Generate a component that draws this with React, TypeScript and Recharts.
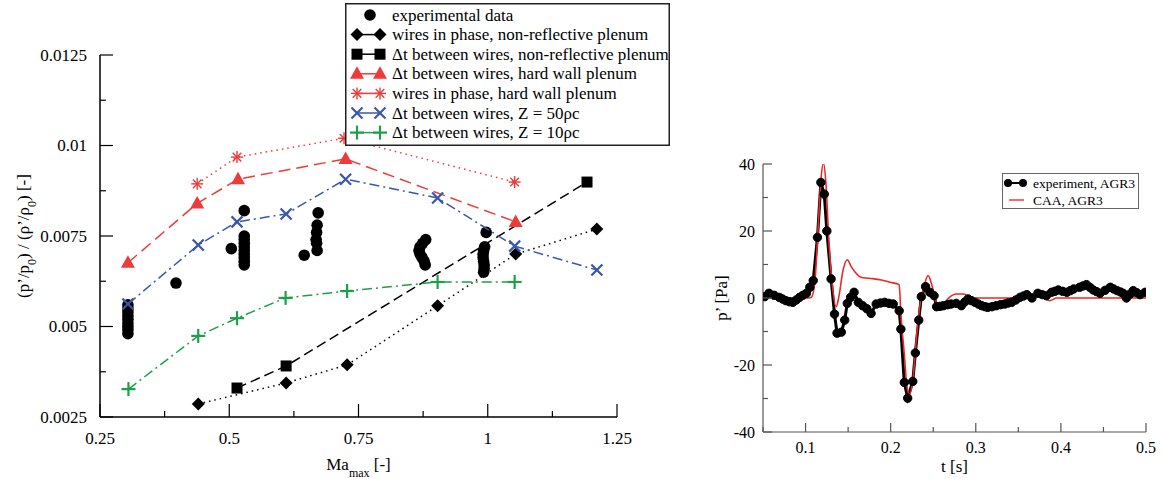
import React from 'react';
import { ScatterChart, ComposedChart, Scatter, Line, XAxis, YAxis, Legend } from 'recharts';

// ---------- left panel: (p'/p0)/(rho'/rho0) vs Ma_max ----------
const expData: [number, number][] = [
  [0.304, 0.0056], [0.304, 0.0055], [0.304, 0.0054], [0.304, 0.0053], [0.304, 0.0052], [0.304, 0.0051],
  [0.304, 0.005], [0.304, 0.0049], [0.304, 0.0048],
  [0.397, 0.0062],
  [0.504, 0.00715],
  [0.529, 0.0082], [0.529, 0.0075], [0.529, 0.0074], [0.529, 0.0073], [0.529, 0.0072], [0.529, 0.0071],
  [0.529, 0.007], [0.529, 0.0069], [0.529, 0.0068], [0.529, 0.0067],
  [0.645, 0.00697],
  [0.672, 0.00814], [0.67, 0.0078], [0.669, 0.0076], [0.668, 0.0074], [0.669, 0.0073], [0.67, 0.0071],
  [0.88, 0.0074], [0.874, 0.0073], [0.869, 0.0072], [0.867, 0.0071], [0.869, 0.007], [0.873, 0.0069],
  [0.877, 0.0068], [0.879, 0.0067],
  [0.997, 0.0076], [0.994, 0.0072], [0.992, 0.0071], [0.991, 0.007], [0.991, 0.0069], [0.992, 0.0068],
  [0.993, 0.0067], [0.993, 0.0066], [0.992, 0.0065],
];
const inPhaseNonRefl: [number, number][] = [
  [0.44, 0.00286], [0.61, 0.00344], [0.728, 0.00394], [0.903, 0.00557], [1.054, 0.007], [1.211, 0.00769],
];
const dtNonRefl: [number, number][] = [[0.515, 0.0033], [0.61, 0.00391], [1.192, 0.00899]];
const dtHardWall: [number, number][] = [
  [0.304, 0.00676], [0.438, 0.0084], [0.517, 0.00907], [0.725, 0.00963], [1.054, 0.00789],
];
const inPhaseHardWall: [number, number][] = [[0.438, 0.00894], [0.515, 0.00968], [0.722, 0.0102], [1.052, 0.00899]];
const dtZ50: [number, number][] = [
  [0.304, 0.00562], [0.44, 0.00725], [0.515, 0.00789], [0.61, 0.00811], [0.725, 0.00907],
  [0.903, 0.00855], [1.052, 0.00722], [1.211, 0.00656],
];
const dtZ10: [number, number][] = [
  [0.305, 0.00327], [0.44, 0.00474], [0.515, 0.00523], [0.609, 0.00579], [0.728, 0.00598],
  [0.903, 0.00623], [1.052, 0.00623],
];

const leftLabels = [
  'experimental data',
  'wires in phase, non-reflective plenum',
  '\u0394t between wires, non-reflective plenum',
  '\u0394t between wires, hard wall plenum',
  'wires in phase, hard wall plenum',
  '\u0394t between wires, Z = 50\u03c1c',
  '\u0394t between wires, Z = 10\u03c1c',
];
const maTicks = [0.25, 0.375, 0.5, 0.625, 0.75, 0.875, 1, 1.125, 1.25];
const maMajor = [0.25, 0.5, 0.75, 1, 1.25];
const ratioTicks = [0.0025, 0.00375, 0.005, 0.00625, 0.0075, 0.00875, 0.01, 0.01125, 0.0125];
const ratioMajor = [0.0025, 0.005, 0.0075, 0.01, 0.0125];

// ---------- right panel: p' vs t ----------
const experiment: [number, number][] = [
  [0.052, 0.4], [0.057, 1.4], [0.063, 0.8], [0.069, 0.2], [0.073, -0.3], [0.077, -0.8], [0.081, -1.1],
  [0.085, -1.3], [0.089, -0.6], [0.093, 0.2], [0.097, 0.8], [0.101, 1.4], [0.105, 3.2], [0.109, 5.2],
  [0.114, 18.1], [0.118, 34.5], [0.122, 31], [0.125, 20], [0.13, 5.7], [0.134, -4.8], [0.137, -10.5],
  [0.142, -10.2], [0.146, -6.6], [0.149, -1.6], [0.153, 0.2], [0.157, 1.7], [0.162, -1.3], [0.167, -2.3],
  [0.172, -3.2], [0.177, -4.6], [0.183, -1.8], [0.188, -1.5], [0.193, -1.3], [0.198, -1.6], [0.203, -1.8],
  [0.21, -3.8], [0.212, -9.3], [0.216, -25.2], [0.22, -29.9], [0.226, -24.9], [0.229, -16.4], [0.233, -6.6],
  [0.236, 0.4], [0.241, 3.4], [0.246, 1.7], [0.251, 0.7], [0.254, -2.6], [0.258, -2.5], [0.262, -2.3],
  [0.267, -2], [0.271, -1.8], [0.277, -1.6], [0.283, -2.3], [0.287, -1.2], [0.291, -0.3], [0.295, -0.8],
  [0.299, -1.3], [0.303, -1.8], [0.307, -2.3], [0.311, -2.6], [0.314, -2.8], [0.319, -2.6], [0.324, -2.3],
  [0.329, -2], [0.334, -1.8], [0.338, -1.5], [0.342, -1.3], [0.347, -0.6], [0.352, 0.2], [0.356, 0.6],
  [0.36, 1], [0.366, 0], [0.373, 1.4], [0.378, 1], [0.383, 0.7], [0.389, 1.7], [0.393, 2], [0.397, 2.4],
  [0.402, 2], [0.407, 1.7], [0.411, 2.2], [0.415, 2.7], [0.422, 3.2], [0.426, 3.6], [0.43, 4], [0.434, 3.2],
  [0.438, 2.4], [0.442, 1.9], [0.446, 1.4], [0.452, 2.3], [0.458, 3.2], [0.462, 2.7], [0.466, 2.2],
  [0.47, 1.8], [0.473, 1.4], [0.477, 0], [0.481, 1.1], [0.485, 2.2], [0.489, 1.6], [0.493, 1], [0.499, 1.7],
];
const caa: [number, number][] = [
  [0.05, 0], [0.104, 0], [0.107, 0.2], [0.111, 5], [0.115, 22], [0.118, 35], [0.121, 40.3], [0.124, 34],
  [0.127, 19], [0.131, 5], [0.136, -2.6], [0.139, 0.2], [0.144, 8.2], [0.149, 11.4], [0.154, 9.2],
  [0.16, 7.2], [0.165, 6.2], [0.175, 5.9], [0.189, 5.4], [0.199, 4.7], [0.21, 4], [0.212, -4.8],
  [0.216, -16.7], [0.219, -26.2], [0.222, -28.7], [0.226, -24.7], [0.23, -12.7], [0.234, -2.8],
  [0.239, 3.2], [0.244, 6.7], [0.248, 4.2], [0.252, 0.2], [0.256, -2.8], [0.262, -1.8], [0.269, 0.2],
  [0.277, 1.2], [0.285, 1.2], [0.297, 0], [0.34, 0], [0.352, 0.7], [0.364, 1.2], [0.375, 0.7],
  [0.387, -0.8], [0.395, 0], [0.5, 0],
];
const rightLabels = ['experiment, AGR3', 'CAA, AGR3'];
const tTicks = [0.05, 0.1, 0.15, 0.2, 0.25, 0.3, 0.35, 0.4, 0.45, 0.5];
const tMajor = [0.1, 0.2, 0.3, 0.4, 0.5];
const pTicks = [-40, -30, -20, -10, 0, 10, 20, 30, 40];
const pMajor = [-40, -20, 0, 20, 40];

const SERIF = 'Liberation Serif, Times New Roman, DejaVu Serif, serif';
const RED = '#ec3b3b';
const BLUE = '#3b57a8';
const GREEN = '#1f9e4c';

const pts = (arr: [number, number][]) => arr.map(([x, y]) => ({ x, y }));
const tp = (arr: [number, number][]) => arr.map(([t, p]) => ({ t, p }));

function drawMarker(kind: string, cx: number, cy: number, color: string) {
  switch (kind) {
    case 'circle':
      return <circle cx={cx} cy={cy} r={5.8} fill={color} />;
    case 'diamond':
      return <polygon points={`${cx},${cy - 6.5} ${cx + 6.5},${cy} ${cx},${cy + 6.5} ${cx - 6.5},${cy}`} fill={color} />;
    case 'square':
      return <rect x={cx - 5.5} y={cy - 5.5} width={11} height={11} fill={color} />;
    case 'triangle':
      return <polygon points={`${cx},${cy - 7.5} ${cx + 7},${cy + 5} ${cx - 7},${cy + 5}`} fill={color} />;
    case 'star':
      return (
        <g stroke={color} strokeWidth={1.4}>
          <line x1={cx} y1={cy - 6} x2={cx} y2={cy + 6} />
          <line x1={cx - 6} y1={cy} x2={cx + 6} y2={cy} />
          <line x1={cx - 4.3} y1={cy - 4.3} x2={cx + 4.3} y2={cy + 4.3} />
          <line x1={cx - 4.3} y1={cy + 4.3} x2={cx + 4.3} y2={cy - 4.3} />
        </g>
      );
    case 'cross':
      return (
        <g stroke={color} strokeWidth={2.2}>
          <line x1={cx - 5.5} y1={cy - 5.5} x2={cx + 5.5} y2={cy + 5.5} />
          <line x1={cx - 5.5} y1={cy + 5.5} x2={cx + 5.5} y2={cy - 5.5} />
        </g>
      );
    default:
      return (
        <g stroke={color} strokeWidth={2.2}>
          <line x1={cx - 7} y1={cy} x2={cx + 7} y2={cy} />
          <line x1={cx} y1={cy - 7} x2={cx} y2={cy + 7} />
        </g>
      );
  }
}

const leftSeries = [
  { data: expData, kind: 'circle', color: '#000', dash: '' },
  { data: inPhaseNonRefl, kind: 'diamond', color: '#000', dash: '1.5 4' },
  { data: dtNonRefl, kind: 'square', color: '#000', dash: '10 5' },
  { data: dtHardWall, kind: 'triangle', color: RED, dash: '12 6' },
  { data: inPhaseHardWall, kind: 'star', color: RED, dash: '1.5 4' },
  { data: dtZ50, kind: 'cross', color: BLUE, dash: '10 4 2 4' },
  { data: dtZ10, kind: 'plus', color: GREEN, dash: '10 4 2 4' },
];

const LeftLegend = () => (
  <svg width={325} height={143} style={{ display: 'block', fontFamily: SERIF }}>
    <rect x={0.75} y={0.75} width={323.5} height={141.5} fill="#fff" stroke="#222" strokeWidth={1.5} />
    {leftLabels.map((label, i) => {
      const s = leftSeries[i];
      const cy = 12 + i * 19.6;
      return (
        <g key={label}>
          {s.kind === 'circle' ? (
            drawMarker('circle', 25, cy, s.color)
          ) : (
            <>
              <line x1={12} x2={35} y1={cy} y2={cy} stroke={s.color} strokeWidth={1.5} />
              {drawMarker(s.kind, 12, cy, s.color)}
              {drawMarker(s.kind, 35, cy, s.color)}
            </>
          )}
          <text x={47} y={cy + 5.5} fontSize={17} style={{ fontFamily: SERIF }} fill="#000">{label}</text>
        </g>
      );
    })}
  </svg>
);

const RightLegend = () => (
  <svg width={137} height={36} style={{ display: 'block', fontFamily: SERIF }}>
    <rect x={0.5} y={0.5} width={136} height={35} fill="#fff" stroke="#666" strokeWidth={1} />
    <line x1={6} x2={21} y1={10} y2={10} stroke="#000" strokeWidth={2} />
    <circle cx={6} cy={10} r={4} fill="#000" />
    <circle cx={21} cy={10} r={4} fill="#000" />
    <text x={31} y={15} fontSize={13.5} style={{ fontFamily: SERIF }}>{rightLabels[0]}</text>
    <line x1={7} x2={22} y1={27} y2={27} stroke={RED} strokeWidth={1.5} />
    <text x={31} y={32} fontSize={13.5} style={{ fontFamily: SERIF }}>{rightLabels[1]}</text>
  </svg>
);

// tick renderers (tickSize 0 so x/y sit on the axis line)
const makeTick = (side: string, major: number[], len: [number, number], color: string, fs: number, gap: number, labels: boolean) =>
  (props: any) => {
    const { x, y, payload } = props;
    const isMajor = major.some((m) => Math.abs(m - payload.value) < 1e-9);
    const l = isMajor ? len[0] : len[1];
    let line;
    let text = null;
    if (side === 'bottom') {
      line = <line x1={x} x2={x} y1={y} y2={y - l} />;
      if (labels && isMajor) text = <text x={x} y={y + gap} textAnchor="middle">{String(payload.value)}</text>;
    } else if (side === 'top') {
      line = <line x1={x} x2={x} y1={y} y2={y + l} />;
    } else if (side === 'left') {
      line = <line x1={x} x2={x + l} y1={y} y2={y} />;
      if (labels && isMajor) text = <text x={x - gap} y={y} dy="0.35em" textAnchor="end">{String(payload.value)}</text>;
    } else {
      line = <line x1={x} x2={x - l} y1={y} y2={y} />;
    }
    return (
      <g stroke={color} strokeWidth={1.2}>
        {line}
        {text && <g stroke="none" fill="#000" fontSize={fs} style={{ fontFamily: SERIF }}>{text}</g>}
      </g>
    );
  };

const LeftYTitle = (props: any) => {
  const { viewBox } = props;
  const cy = viewBox.y + viewBox.height / 2;
  return (
    <text x={29} y={cy} transform={`rotate(-90 29 ${cy})`} textAnchor="middle" fontSize={17} style={{ fontFamily: SERIF }}>
      (p’/p<tspan baseline-shift="sub" fontSize={12}>0</tspan>) / (ρ’/ρ<tspan baseline-shift="sub" fontSize={12}>0</tspan>) [-]
    </text>
  );
};

const LeftXTitle = (props: any) => {
  const { viewBox } = props;
  const cx = viewBox.x + viewBox.width / 2;
  return (
    <text x={cx} y={viewBox.y + 53} textAnchor="middle" fontSize={17} style={{ fontFamily: SERIF }}>
      Ma<tspan baseline-shift="sub" fontSize={12}>max</tspan> [-]
    </text>
  );
};

const RightYTitle = (props: any) => {
  const { viewBox } = props;
  const cy = viewBox.y + viewBox.height / 2;
  return (
    <text x={37} y={cy} transform={`rotate(-90 37 ${cy})`} textAnchor="middle" fontSize={17} style={{ fontFamily: SERIF }}>
      p’ [Pa]
    </text>
  );
};

const RightXTitle = (props: any) => {
  const { viewBox } = props;
  const cx = viewBox.x + viewBox.width / 2;
  return (
    <text x={cx} y={viewBox.y + 40} textAnchor="middle" fontSize={17} style={{ fontFamily: SERIF }}>
      t [s]
    </text>
  );
};

export default function App() {
  return (
    <div style={{ position: 'absolute', left: 0, top: 0, width: 1164, height: 479, background: '#fff', fontFamily: SERIF }}>
      <div style={{ position: 'absolute', left: 0, top: 0 }}>
        <ScatterChart width={680} height={479} margin={{ top: 55, right: 63, bottom: 0, left: 0 }} style={{ fontFamily: SERIF }}>
          <XAxis
            xAxisId="b" dataKey="x" type="number" domain={[0.25, 1.25]} ticks={maTicks} interval={0}
            height={62} tickSize={0} tickMargin={0} tickLine={false} allowDataOverflow
            axisLine={{ stroke: '#000', strokeWidth: 1.5 }}
            tick={makeTick('bottom', maMajor, [13, 6], '#000', 17, 27, true)}
            label={LeftXTitle}
          />
          <XAxis
            xAxisId="t" orientation="top" type="number" domain={[0.25, 1.25]} ticks={maTicks} interval={0}
            height={0} tickSize={0} tickMargin={0} tickLine={false} allowDataOverflow
            axisLine={{ stroke: '#000', strokeWidth: 1.5 }}
            tick={makeTick('top', maMajor, [13, 6], '#000', 17, 0, false)}
          />
          <YAxis
            yAxisId="l" dataKey="y" type="number" domain={[0.0025, 0.0125]} ticks={ratioTicks} interval={0}
            width={100} tickSize={0} tickMargin={0} tickLine={false} allowDataOverflow
            axisLine={{ stroke: '#000', strokeWidth: 1.5 }}
            tick={makeTick('left', ratioMajor, [13, 6], '#000', 17, 13, true)}
            label={LeftYTitle}
          />
          <YAxis
            yAxisId="r" orientation="right" type="number" domain={[0.0025, 0.0125]} ticks={ratioTicks} interval={0}
            width={0} tickSize={0} tickMargin={0} tickLine={false} allowDataOverflow
            axisLine={{ stroke: '#000', strokeWidth: 1.5 }}
            tick={makeTick('right', ratioMajor, [13, 6], '#000', 17, 0, false)}
          />
          {leftSeries.map((s, i) => (
            <Scatter
              key={i}
              xAxisId="b"
              yAxisId="l"
              data={pts(s.data)}
              fill={s.color}
              isAnimationActive={false}
              line={s.kind === 'circle' ? false : { stroke: s.color, strokeWidth: 1.5, strokeDasharray: s.dash }}
              lineType="joint"
              shape={(p: any) => drawMarker(s.kind, p.cx, p.cy, s.color)}
            />
          ))}
          <Legend
            layout="vertical" align="center" verticalAlign="middle"
            content={() => <LeftLegend />}
            wrapperStyle={{ left: 345, top: 3, width: 325, height: 143 }}
          />
        </ScatterChart>
      </div>
      <div style={{ position: 'absolute', left: 690, top: 0 }}>
        <ComposedChart width={474} height={479} margin={{ top: 164, right: 18, bottom: 0, left: 0 }} style={{ fontFamily: SERIF }}>
          <XAxis
            xAxisId="b" dataKey="t" type="number" domain={[0.05, 0.5]} ticks={tTicks} interval={0}
            height={47} tickSize={0} tickMargin={0} tickLine={false} allowDataOverflow
            axisLine={{ stroke: '#555', strokeWidth: 1.2 }}
            tick={makeTick('bottom', tMajor, [9, 5], '#555', 16, 21, true)}
            label={RightXTitle}
          />
          <XAxis
            xAxisId="t" orientation="top" type="number" domain={[0.05, 0.5]} ticks={tTicks} interval={0}
            height={0} tickSize={0} tickMargin={0} tickLine={false} allowDataOverflow
            axisLine={{ stroke: '#555', strokeWidth: 1.2 }}
            tick={makeTick('top', tMajor, [9, 5], '#555', 16, 0, false)}
          />
          <YAxis
            yAxisId="l" type="number" domain={[-40, 40]} ticks={pTicks} interval={0}
            width={73} tickSize={0} tickMargin={0} tickLine={false} allowDataOverflow
            axisLine={{ stroke: '#555', strokeWidth: 1.2 }}
            tick={makeTick('left', pMajor, [9, 5], '#555', 16, 8, true)}
            label={RightYTitle}
          />
          <YAxis
            yAxisId="r" orientation="right" type="number" domain={[-40, 40]} ticks={pTicks} interval={0}
            width={0} tickSize={0} tickMargin={0} tickLine={false} allowDataOverflow
            axisLine={{ stroke: '#555', strokeWidth: 1.2 }}
            tick={makeTick('right', pMajor, [9, 5], '#555', 16, 0, false)}
          />
          <Line
            xAxisId="b" yAxisId="l" data={tp(experiment)} dataKey="p" type="linear"
            stroke="#000" strokeWidth={3} dot={{ r: 4.2, fill: '#000', stroke: '#000', strokeWidth: 1 }}
            isAnimationActive={false}
          />
          <Line
            xAxisId="b" yAxisId="l" data={tp(caa)} dataKey="p" type="monotone"
            stroke="#e8282a" strokeWidth={1.6} dot={false}
            isAnimationActive={false}
          />
          <Legend
            layout="vertical" align="center" verticalAlign="middle"
            content={() => <RightLegend />}
            wrapperStyle={{ left: 312, top: 173, width: 137, height: 36 }}
          />
        </ComposedChart>
      </div>
    </div>
  );
}
